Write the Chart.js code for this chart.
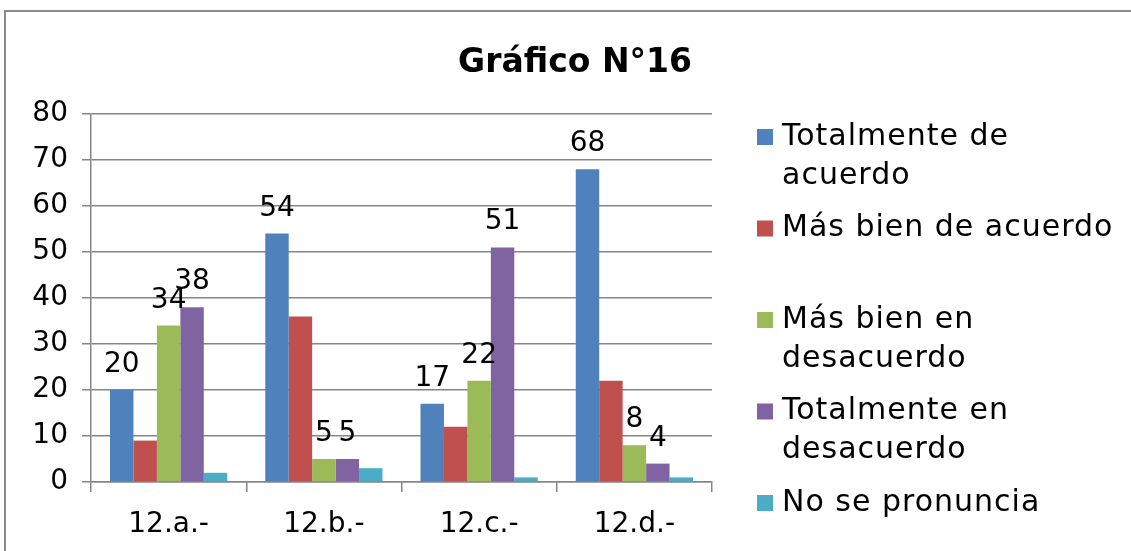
<!DOCTYPE html>
<html>
<head>
<meta charset="utf-8">
<script src="https://cdn.jsdelivr.net/npm/chart.js@4.4.0/dist/chart.umd.min.js"></script>
<style>
  html, body { margin: 0; padding: 0; background: #fff; overflow: hidden; }
  #marco { position: absolute; left: 4px; top: 10px; width: 1300px; height: 700px; border: 2px solid #8a8a8a; }
  #lienzo { position: absolute; left: 0; top: 0; }
</style>
</head>
<body>
<div id="marco"></div>
<canvas id="lienzo" width="1131" height="551"></canvas>
<script>
// datos del grafico
var categorias = ["12.a.-", "12.b.-", "12.c.-", "12.d.-"];
var nombresSeries = [
  ["Totalmente de", "acuerdo"],
  ["Más bien de acuerdo"],
  ["Más bien en", "desacuerdo"],
  ["Totalmente en", "desacuerdo"],
  ["No se pronuncia"]
];
var totalmenteAcuerdo = [20, 54, 17, 68];
var masBienAcuerdo = [9, 36, 12, 22];
var masBienDesacuerdo = [34, 5, 22, 8];
var totalmenteDesacuerdo = [38, 5, 51, 4];
var noSePronuncia = [2, 3, 1, 1];
var colores = ["#4F81BD", "#C0504D", "#9BBB59", "#8064A2", "#4BACC6"];
var ticksY = [0, 10, 20, 30, 40, 50, 60, 70, 80];
// series que llevan etiqueta de valor
var conEtiqueta = [0, 2, 3];

var fuente = "'DejaVu Sans', sans-serif";
var valores = [totalmenteAcuerdo, masBienAcuerdo, masBienDesacuerdo, totalmenteDesacuerdo, noSePronuncia];

var datasets = valores.map(function(v, i) {
  return {
    label: nombresSeries[i].join(" "),
    data: v,
    backgroundColor: colores[i],
    borderWidth: 0,
    categoryPercentage: 0.755,
    barPercentage: 1.0
  };
});

// titulo, etiquetas y leyenda dibujados a mano
var extras = {
  id: "extras",
  afterDatasetsDraw: function(chart) {
    var ctx = chart.ctx;
    ctx.save();
    ctx.fillStyle = "#000";
    ctx.font = "28px " + fuente;
    ctx.textAlign = "center";
    ctx.textBaseline = "alphabetic";
    conEtiqueta.forEach(function(d) {
      chart.getDatasetMeta(d).data.forEach(function(bar, j) {
        ctx.fillText(String(chart.data.datasets[d].data[j]), bar.x, bar.y - 18);
      });
    });

    // titulo
    ctx.font = "bold 33px " + fuente;
    ctx.fillText("Gráfico N°16", 575, 72);

    // leyenda
    ctx.textAlign = "left";
    ctx.textBaseline = "middle";
    ctx.font = "30px " + fuente;
    ctx.letterSpacing = "1px";
    nombresSeries.forEach(function(lineas, i) {
      var y = 137 + i * 91.5;
      ctx.fillStyle = colores[i];
      ctx.fillRect(757, y - 8, 16, 16);
      ctx.fillStyle = "#000";
      lineas.forEach(function(t, k) {
        ctx.fillText(t, 782, y + k * 39);
      });
    });
    ctx.restore();
  }
};

new Chart("lienzo", {
  type: "bar",
  data: {
    labels: categorias,
    datasets: datasets
  },
  options: {
    responsive: false,
    animation: false,
    layout: { padding: { top: 114, right: 419, left: 0, bottom: 0 } },
    plugins: {
      legend: { display: false },
      title: { display: false },
      tooltip: { enabled: false }
    },
    scales: {
      x: {
        grid: { offset: true, drawOnChartArea: false, tickLength: 10, color: "#868686", lineWidth: 1.5 },
        border: { color: "#868686", width: 1.5 },
        ticks: { color: "#000", font: { family: fuente, size: 28 }, padding: 16 },
        afterFit: function(scale) { scale.height = 551 - 482; }
      },
      y: {
        min: 0,
        max: 80,
        afterBuildTicks: function(scale) {
          scale.ticks = ticksY.map(function(v) { return { value: v }; });
        },
        grid: { color: "#868686", lineWidth: 1.5, tickLength: 9 },
        border: { color: "#868686", width: 1.5 },
        ticks: { color: "#000", font: { family: fuente, size: 28 }, padding: 14 },
        afterFit: function(scale) { scale.width = 91; }
      }
    }
  },
  plugins: [extras]
});
</script>
</body>
</html>
